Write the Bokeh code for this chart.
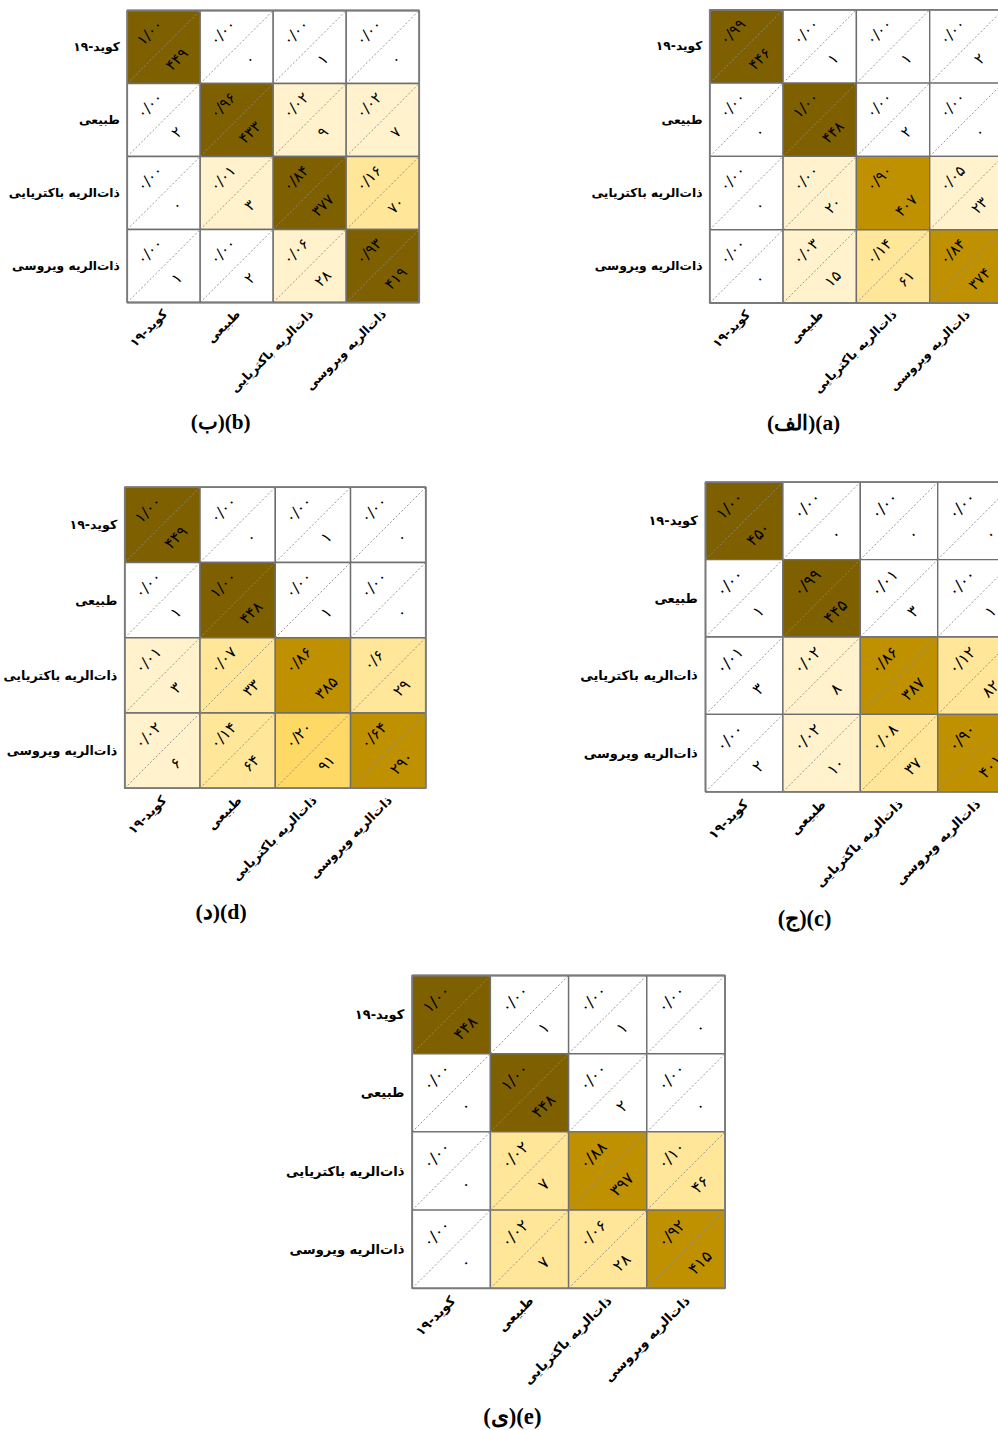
import math
from bokeh.plotting import figure
from bokeh.layouts import row, column
from bokeh.models import Range1d
from bokeh.core.properties import value
from bokeh.embed import file_html
from bokeh.resources import INLINE

# ---------------- data ----------------
classes = ["کوید-۱۹", "طبیعی", "ذات\u200cالریه باکتریایی", "ذات\u200cالریه ویروسی"]

counts_a = [[446, 1, 1, 2], [0, 448, 2, 0], [0, 20, 407, 23], [0, 15, 61, 374]]
ratios_a = [["0.99", "0.00", "0.00", "0.00"], ["0.00", "1.00", "0.00", "0.00"],
            ["0.00", "0.00", "0.90", "0.05"], ["0.00", "0.03", "0.14", "0.84"]]
shade_a = [[5, 0, 0, 0], [0, 5, 0, 0], [0, 1, 4, 1], [0, 1, 2, 4]]

counts_b = [[449, 0, 1, 0], [2, 433, 9, 7], [0, 3, 377, 70], [1, 2, 28, 419]]
ratios_b = [["1.00", "0.00", "0.00", "0.00"], ["0.00", "0.96", "0.02", "0.02"],
            ["0.00", "0.01", "0.84", "0.16"], ["0.00", "0.00", "0.06", "0.93"]]
shade_b = [[5, 0, 0, 0], [0, 5, 1, 1], [0, 1, 5, 2], [0, 0, 1, 5]]

counts_c = [[450, 0, 0, 0], [1, 445, 3, 1], [3, 8, 387, 82], [2, 10, 37, 401]]
ratios_c = [["1.00", "0.00", "0.00", "0.00"], ["0.00", "0.99", "0.01", "0.00"],
            ["0.01", "0.02", "0.86", "0.12"], ["0.00", "0.02", "0.08", "0.90"]]
shade_c = [[5, 0, 0, 0], [0, 5, 0, 0], [0, 1, 4, 2], [0, 1, 2, 4]]

counts_d = [[449, 0, 1, 0], [1, 448, 1, 0], [3, 33, 385, 29], [6, 64, 91, 290]]
ratios_d = [["1.00", "0.00", "0.00", "0.00"], ["0.00", "1.00", "0.00", "0.00"],
            ["0.01", "0.07", "0.86", "0.6"], ["0.02", "0.14", "0.20", "0.64"]]
shade_d = [[5, 0, 0, 0], [0, 5, 0, 0], [1, 2, 4, 2], [1, 2, 3, 4]]

counts_e = [[448, 1, 1, 0], [0, 448, 2, 0], [0, 7, 397, 46], [0, 7, 28, 415]]
ratios_e = [["1.00", "0.00", "0.00", "0.00"], ["0.00", "1.00", "0.00", "0.00"],
            ["0.00", "0.02", "0.88", "0.10"], ["0.00", "0.02", "0.06", "0.92"]]
shade_e = [[5, 0, 0, 0], [0, 5, 0, 0], [0, 2, 4, 2], [0, 2, 2, 4]]

captions = {"a": "(الف)(a)", "b": "(ب)(b)", "c": "(ج)(c)", "d": "(د)(d)", "e": "(ی)(e)"}

# ---------------- style ----------------
palette = ["#FFFFFF", "#FFF2CC", "#FFE699", "#FFD966", "#BF9000", "#7F6000"]
FA = str.maketrans("0123456789.", "۰۱۲۳۴۵۶۷۸۹/")


def fa(s):
    return str(s).translate(FA)


def panel(counts, ratios, shade, caption, fx0, fy0, fx1, fy1, gx, gy, cell):
    n = len(classes)
    p = figure(width=int(fx1 - fx0), height=int(fy1 - fy0),
               x_range=Range1d((fx0 - gx) / cell, (fx1 - gx) / cell),
               y_range=Range1d(n - (fy1 - gy) / cell, n - (fy0 - gy) / cell),
               x_axis_type=None, y_axis_type=None,
               output_backend="svg", toolbar_location=None, min_border=0)
    p.outline_line_color = None
    p.background_fill_color = "white"

    xs, ys, cols, rtxt, ctxt = [], [], [], [], []
    for i in range(n):
        for j in range(n):
            xs.append(j)
            ys.append(n - 1 - i)
            cols.append(palette[shade[i][j]])
            rtxt.append(fa(ratios[i][j]))
            ctxt.append(fa(counts[i][j]))

    p.rect(x=[x + 0.5 for x in xs], y=[y + 0.5 for y in ys], width=1, height=1,
           fill_color=cols, line_color="#6e6e6e", line_width=1.4)
    p.segment(x0=xs, y0=ys, x1=[x + 1 for x in xs], y1=[y + 1 for y in ys],
              line_color="#8a8a8a", line_width=0.9, line_dash="2 2")
    p.rect(x=[n / 2], y=[n / 2], width=n, height=n, fill_color=None,
           line_color="#7a7a7a", line_width=1.8)

    fs_cell = f"{cell * 0.205:.1f}px"
    p.text(x=[x + 0.31 for x in xs], y=[y + 0.70 for y in ys], text=rtxt,
           angle=math.pi / 4, text_align="center", text_baseline="middle",
           text_font=value("DejaVu Sans"), text_font_size=fs_cell, text_color="black")
    p.text(x=[x + 0.68 for x in xs], y=[y + 0.33 for y in ys], text=ctxt,
           angle=math.pi / 4, text_align="center", text_baseline="middle",
           text_font=value("DejaVu Sans"), text_font_size=fs_cell, text_color="black")

    fs_lab = f"{cell * 0.168:.1f}px"
    p.text(x=[-0.1] * n, y=[n - 0.5 - i for i in range(n)], text=classes,
           text_align="right", text_baseline="middle", text_font=value("DejaVu Sans"),
           text_font_style="bold", text_font_size=fs_lab, text_color="black")
    p.text(x=[i + 0.52 for i in range(n)], y=[-0.13] * n, text=classes,
           angle=math.pi / 4, text_align="right", text_baseline="middle",
           text_font=value("DejaVu Sans"), text_font_style="bold",
           text_font_size=fs_lab, text_color="black")

    p.text(x=[1.28], y=[-1.64], text=[caption], text_align="center", text_baseline="middle",
           text_font=value("Liberation Serif"), text_font_style="bold",
           text_font_size=f"{cell * 0.29:.1f}px", text_color="black")
    return p


pb = panel(counts_b, ratios_b, shade_b, captions["b"], 0, 0, 590, 440, 126.7, 10.0, 73.0)
pa = panel(counts_a, ratios_a, shade_a, captions["a"], 590, 0, 998, 440, 709.3, 9.3, 73.3)
pd = panel(counts_d, ratios_d, shade_d, captions["d"], 0, 440, 580, 940, 124.3, 486.7, 75.25)
pc = panel(counts_c, ratios_c, shade_c, captions["c"], 580, 440, 998, 940, 705.0, 481.7, 77.4)
pe = panel(counts_e, ratios_e, shade_e, captions["e"], 0, 940, 998, 1430, 411.7, 975.0, 78.2)

layout = column(row(pb, pa), row(pd, pc), pe)

with open("out.html", "w") as f:
    f.write(file_html(layout, INLINE))
